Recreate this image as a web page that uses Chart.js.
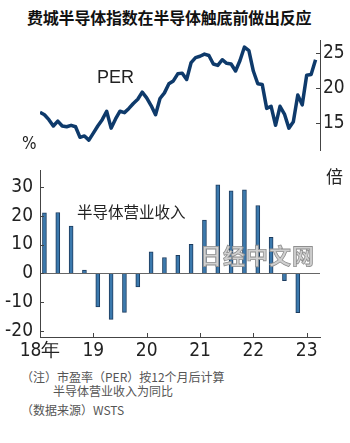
<!DOCTYPE html>
<html>
<head>
<meta charset="utf-8">
<script src="https://cdn.jsdelivr.net/npm/chart.js@4.4.1/dist/chart.umd.min.js"></script>
<style>
body { margin:0; width:350px; height:443px; background:#fff; position:relative; overflow:hidden;
  font-family:"Noto Sans CJK SC","Noto Sans",sans-serif; color:#222; }
.t { position:absolute; white-space:nowrap; line-height:1; }
#title { left:27px; top:9px; font-size:16px; font-weight:bold; color:#111; letter-spacing:-0.2px; }
#c1 { position:absolute; left:0; top:30px; }
#c2 { position:absolute; left:0; top:160px; }
.note { font-size:12px; color:#555; }
</style>
</head>
<body>
<div id="title" class="t">费城半导体指数在半导体触底前做出反应</div>
<canvas id="c1" width="350" height="130"></canvas>
<canvas id="c2" width="350" height="205"></canvas>
<div class="t" style="left:97px;top:68px;font-size:18px;font-family:'Liberation Sans','Noto Sans',sans-serif;">PER</div>
<div class="t" style="left:22px;top:135px;font-size:17px;font-family:'Liberation Sans Narrow','DejaVu Sans Condensed',sans-serif;">%</div>
<div class="t" style="left:326px;top:167px;font-size:17px;">倍</div>
<div class="t" style="left:77px;top:204px;font-size:15.5px;">半导体营业收入</div>
<div class="t" style="left:200px;top:243px;font-size:22px;font-weight:bold;color:#d0d0d0;letter-spacing:1px;-webkit-text-stroke:0.8px #8f8f8f;">日经中文网</div>
<div class="t note" style="left:21px;top:371px;">（注）市盈率（PER）按12个月后计算</div>
<div class="t note" style="left:53px;top:385px;">半导体营业收入为同比</div>
<div class="t note" style="left:21px;top:404px;">（数据来源）WSTS</div>
<script>
// PER (12-month forward), monthly Jan 2018 - Mar 2023
const perValues = [
  16.55, 16.2, 15.5, 14.6, 15.3, 14.6, 14.5, 14.7, 14.5, 13.0, 13.2, 12.6,
  13.6, 14.6, 15.5, 16.7, 14.3, 15.6, 16.7, 16.5, 17.1, 17.8, 18.4, 19.4,
  18.6, 17.5, 16.2, 18.5, 19.3, 20.6, 21.0, 22.0, 22.1, 21.2, 23.6, 24.3,
  24.5, 24.8, 24.6, 23.4, 23.2, 24.0, 23.5, 23.4, 22.4, 23.9, 25.8, 25.3,
  22.4, 20.6, 20.5, 17.1, 17.4, 14.7, 17.4, 16.3, 14.3, 15.2, 19.0, 17.6,
  21.8, 21.9, 24.0
];
// semiconductor revenue, YoY %, quarterly 2018Q1 - 2022Q4
const quarters = ['18Q1','18Q2','18Q3','18Q4','19Q1','19Q2','19Q3','19Q4','20Q1','20Q2',
  '20Q3','20Q4','21Q1','21Q2','21Q3','21Q4','22Q1','22Q2','22Q3','22Q4'];
const salesValues = [21.0, 21.1, 16.4, 1.2, -11.6, -15.9, -13.5, -4.7, 7.5, 5.5,
  6.3, 10.1, 18.5, 30.7, 28.6, 28.9, 23.5, 12.5, -2.5, -13.6];
const yearLabels = ['18年', '19', '20', '21', '22', '23'];
const perTicks = [15, 20, 25];
const salesTicks = [-20, -10, 0, 10, 20, 30];

const numFont = { family: "'Liberation Sans Narrow','DejaVu Sans Condensed',sans-serif", size: 19 };
const X_MIN = 0, X_MAX = 63;

// month index 0 = Jan 2018
const perPoints = perValues.map((v, i) => ({ x: i, y: v }));
const salesPoints = salesValues.map((v, i) => ({ x: i * 3 + 1, y: v }));

// short tick marks drawn inside the plot area
const innerTicks = {
  id: 'innerTicks',
  afterDraw(chart, args, opts) {
    const ctx = chart.ctx;
    ctx.save();
    ctx.strokeStyle = '#444';
    ctx.lineWidth = 1;
    Object.values(chart.scales).forEach(s => {
      if (!s.options.display) return;
      s.ticks.forEach(t => {
        const p = Math.round(s.getPixelForValue(t.value)) + 0.5;
        ctx.beginPath();
        if (s.axis === 'x') {
          ctx.moveTo(p, s.top); ctx.lineTo(p, s.top - 4);
        } else if (s.position === 'left') {
          ctx.moveTo(s.right, p); ctx.lineTo(s.right + 4, p);
        } else {
          ctx.moveTo(s.left, p); ctx.lineTo(s.left - 4, p);
        }
        ctx.stroke();
      });
    });
    ctx.restore();
  }
};

new Chart(document.getElementById('c1'), {
  type: 'line',
  data: {
    datasets: [{
      data: perPoints,
      borderColor: '#0e3a6b',
      borderWidth: 3.5,
      pointRadius: 0,
      tension: 0,
      borderJoinStyle: 'round',
      yAxisID: 'y'
    }]
  },
  options: {
    responsive: false,
    animation: false,
    layout: { padding: { left: 40, top: 10, bottom: 10, right: 0 } },
    plugins: { legend: { display: false }, tooltip: { enabled: false } },
    scales: {
      x: { type: 'linear', min: X_MIN, max: X_MAX, display: false },
      y: {
        position: 'right',
        min: 11.2, max: 26.8,
        afterFit: s => { s.width = 30; s.paddingTop = 0; s.paddingBottom = 0; },
        afterBuildTicks: s => { s.ticks = perTicks.map(v => ({ value: v })); },
        border: { display: true, color: '#444', width: 1 },
        grid: { drawOnChartArea: false, drawTicks: false },
        ticks: { padding: 3, color: '#222', font: numFont }
      }
    }
  },
  plugins: [innerTicks]
});

new Chart(document.getElementById('c2'), {
  type: 'bar',
  data: {
    labels: quarters,
    datasets: [{
      data: salesPoints,
      backgroundColor: '#3b79ad',
      borderColor: '#1d3c5f',
      borderWidth: 1,
      barThickness: 4
    }]
  },
  options: {
    responsive: false,
    animation: false,
    layout: { padding: { left: 0, top: 10, bottom: 0, right: 30 } },
    plugins: { legend: { display: false }, tooltip: { enabled: false } },
    scales: {
      x: {
        type: 'linear', min: X_MIN, max: X_MAX,
        offset: false,
        afterFit: s => { s.height = 28; s.paddingLeft = 0; s.paddingRight = 0; },
        afterBuildTicks: s => { s.ticks = yearLabels.map((l, i) => ({ value: i * 12 })); },
        border: { display: true, color: '#444', width: 1 },
        grid: { offset: false, drawOnChartArea: false, drawTicks: false },
        ticks: {
          padding: 3, color: '#222', font: numFont, maxRotation: 0, autoSkip: false,
          callback: v => yearLabels[v / 12]
        }
      },
      y: {
        min: -22, max: 35.8,
        afterFit: s => { s.width = 40; s.paddingTop = 0; s.paddingBottom = 0; },
        afterBuildTicks: s => { s.ticks = salesTicks.map(v => ({ value: v })); },
        border: { display: true, color: '#444', width: 1 },
        grid: {
          drawTicks: false,
          color: c => c.tick && c.tick.value === 0 ? '#666' : 'rgba(0,0,0,0)',
          lineWidth: 1
        },
        ticks: { padding: 7, color: '#222', font: numFont }
      }
    }
  },
  plugins: [innerTicks]
});
</script>
</body>
</html>
